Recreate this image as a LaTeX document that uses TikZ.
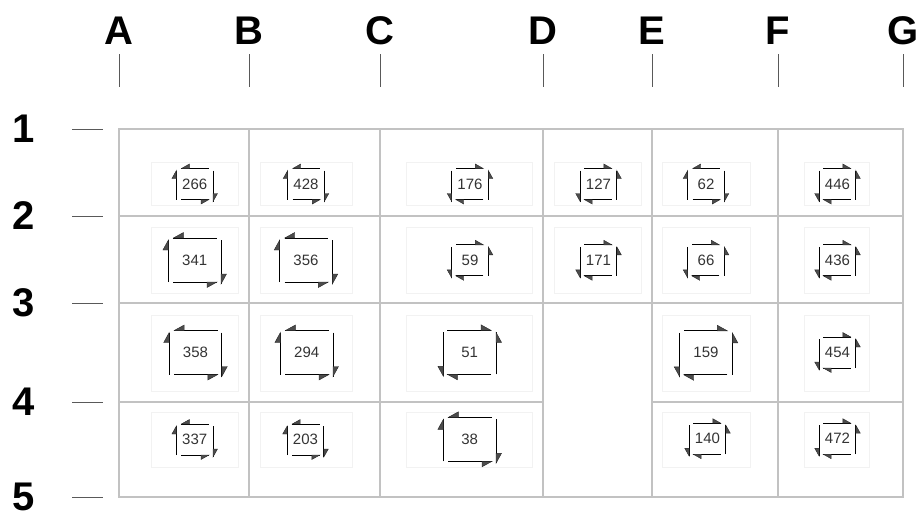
\documentclass[tikz,border=0pt]{standalone}
\usepackage{fontspec}
\setmainfont{Liberation Sans}
\tikzset{
  gridline/.style={draw=black!24, line width=1.1pt},
  tickline/.style={draw=black!65, line width=1pt},
  bgbox/.style={draw=black!5, line width=0.8pt},
  symline/.style={draw=black, line width=1pt},
  symhead/.style={fill=black!70, draw=black!85, line width=0.4pt, line join=miter},
  lbl/.style={inner sep=0pt, text=black!80, font=\fontsize{15}{18}\selectfont},
  axlbl/.style={inner sep=0pt, text=black, font=\fontsize{40}{48}\selectfont\bfseries},
}
\newcommand\rotsym[8]{%
  \begin{scope}[shift={(#2,#3)}, xscale=#6]
    \draw[symline] (-#4+5,-#5) -- (#4-4,-#5);
    \draw[symline] (-#4,#5) -- (-#4,-#5+2);
    \draw[symline] (#4,-#5+2) -- (#4,#5+2);
    \draw[symline] (-#4+5,#5) -- (#4-4,#5);
    \filldraw[symhead] (-#4+5,-#5) -- (-#4+5+#7,-#5) -- (-#4+5+#7,-#5-#8) -- cycle;
    \filldraw[symhead] (-#4,-#5+2) -- (-#4,-#5+2+#7) -- (-#4-#8,-#5+2+#7) -- cycle;
    \filldraw[symhead] (#4,#5+2) -- (#4,#5+2-#7) -- (#4+#8,#5+2-#7) -- cycle;
    \filldraw[symhead] (#4-4,#5) -- (#4-4-#7,#5) -- (#4-4-#7,#5+#8) -- cycle;
  \end{scope}
  \node[lbl] (n#1) at (#2,#3) {#1};
}
\newcommand\symS[4]{\rotsym{#1}{#2}{#3}{18.3}{15.5}{#4}{8}{4.5}}
\newcommand\symL[4]{\rotsym{#1}{#2}{#3}{26.3}{22}{#4}{10}{5.5}}
\begin{document}
\begin{tikzpicture}[x=1pt,y=-1pt]
\useasboundingbox (0,0) rectangle (920,515);

% column and row labels
\foreach \l/\x in {A/119,B/249,C/380,D/543,E/652,F/778,G/903}{
  \node[axlbl] (col\l) at (\x,31) {\l};
  \coordinate (ct\l) at (\x,54);
  \coordinate (cb\l) at (\x,87);
  \draw[tickline] (ct\l) -- (cb\l);
}
\foreach \n/\y in {1/129,2/216,3/303,4/402,5/497}{
  \node[axlbl, anchor=west] (row\n) at (12,\y) {\n};
  \coordinate (rl\n) at (72,\y);
  \coordinate (rr\n) at (103,\y);
  \draw[tickline] (rl\n) -- (rr\n);
}

% grid
\draw[gridline] (119,129) rectangle (903,497);
\foreach \x in {249,380,543,652,778}{
  \draw[gridline] (\x,129) -- (\x,497);
}
\draw[gridline] (119,216) -- (903,216);
\draw[gridline] (119,303) -- (903,303);
\draw[gridline] (119,402) -- (543,402);
\draw[gridline] (652,402) -- (903,402);

% faint background boxes
\foreach \ya/\yb in {162.7/205.5, 227.3/293}{
  \foreach \xa/\xb in {151/238, 260/352.3, 406.5/532.7, 554/641, 662.3/750, 804.3/869.3}{
    \draw[bgbox] (\xa,\ya) rectangle (\xb,\yb);
  }
}
\foreach \ya/\yb in {315/391, 412.5/467}{
  \foreach \xa/\xb in {151/238, 260/352.3, 406.5/532.7, 662.3/750, 804.3/869.3}{
    \draw[bgbox] (\xa,\ya) rectangle (\xb,\yb);
  }
}

% row 1
\symS{266}{194.7}{184}{1}
\symS{428}{306}{184}{1}
\symS{176}{470}{184}{-1}
\symS{127}{598.5}{184}{-1}
\symS{62}{706}{184}{1}
\symS{446}{837.5}{184}{-1}
% row 2
\symL{341}{194.7}{260}{1}
\symL{356}{306}{260}{1}
\symS{59}{470}{260.3}{-1}
\symS{171}{598.5}{260.3}{-1}
\symS{66}{706}{260.3}{-1}
\symS{436}{837.5}{260.3}{-1}
% row 3
\symL{358}{195.5}{352.5}{1}
\symL{294}{306.7}{352.5}{1}
\symL{51}{469.7}{352.3}{-1}
\symL{159}{706}{352.8}{-1}
\symS{454}{837.5}{352.5}{-1}
% row 4
\symS{337}{194.7}{439.5}{1}
\symS{203}{305.5}{439.5}{1}
\symL{38}{469.7}{439.3}{1}
\symS{140}{707.5}{438.7}{-1}
\symS{472}{837.5}{438.7}{-1}
\end{tikzpicture}
\end{document}
